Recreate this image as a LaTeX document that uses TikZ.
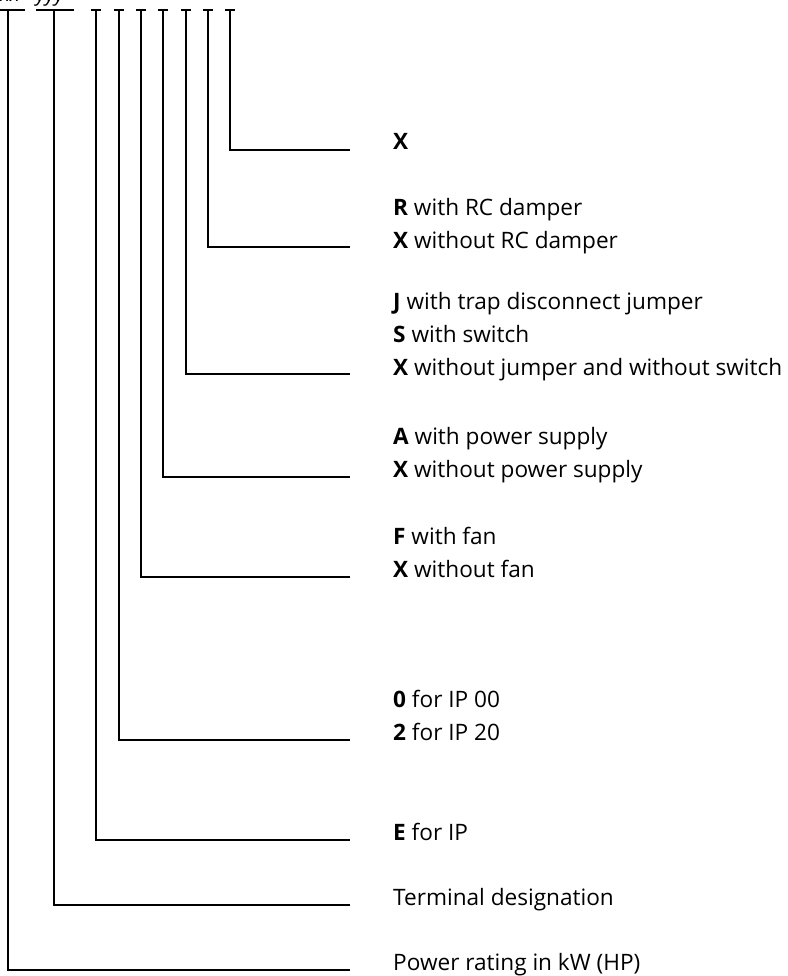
\documentclass[tikz,border=0pt]{standalone}
\usepackage{fontspec}
\setmainfont{Open Sans}
\begin{document}
\begin{tikzpicture}[x=1pt,y=-1pt,
  lead/.style={line width=1.1pt,black},
  lbl/.style={anchor=base west,inner sep=0pt,font=\fontsize{22.6}{26}\selectfont},
  top/.style={anchor=base west,inner sep=0pt,font=\fontsize{20}{22}\selectfont\itshape}]
\useasboundingbox (0,0) rectangle (787,976);
% top code letters (cut off by page edge)
\node[top] (cx) at (0,2) {xx};
\node[top] (cy) at (36,2) {yyy};
\draw[lead] (0,10) -- (25,10);
\draw[lead] (36,10) -- (74,10);
% dash marks
\foreach \x in {96,119,141,163,186,208,230}{
  \draw[lead] (\x-5,10) -- (\x+5,10);
}
% label texts
\node[lbl] (t1) at (393,150) {\textbf{X}};
\node[lbl] (t2a) at (393,215) {\textbf{R} with RC damper};
\node[lbl] (t2b) at (393,248) {\textbf{X} without RC damper};
\node[lbl] (t3a) at (393,309) {\textbf{J} with trap disconnect jumper};
\node[lbl] (t3b) at (393,342) {\textbf{S} with switch};
\node[lbl] (t3c) at (393,375) {\textbf{X} without jumper and without switch};
\node[lbl] (t4a) at (393,444) {\textbf{A} with power supply};
\node[lbl] (t4b) at (393,477) {\textbf{X} without power supply};
\node[lbl] (t5a) at (393,544) {\textbf{F} with fan};
\node[lbl] (t5b) at (393,577) {\textbf{X} without fan};
\node[lbl] (t6a) at (393,707) {\textbf{0} for IP 00};
\node[lbl] (t6b) at (393,740) {\textbf{2} for IP 20};
\node[lbl] (t7) at (393,840) {\textbf{E} for IP};
\node[lbl] (t8) at (393,905) {Terminal designation};
\node[lbl] (t9) at (393,970) {Power rating in kW (HP)};
% leader coordinates
\foreach \n/\x/\y in {a/230/150,b/208/247,c/186/374,d/163/477,e/141/577,f/119/740,g/96/840,h/54/905,i/8/970}{
  \coordinate (s\n) at (\x,10);
  \coordinate (k\n) at (\x,\y);
  \coordinate (e\n) at (350,\y);
  \draw[lead] (s\n) -- (k\n) -- (e\n);
}
\end{tikzpicture}
\end{document}
